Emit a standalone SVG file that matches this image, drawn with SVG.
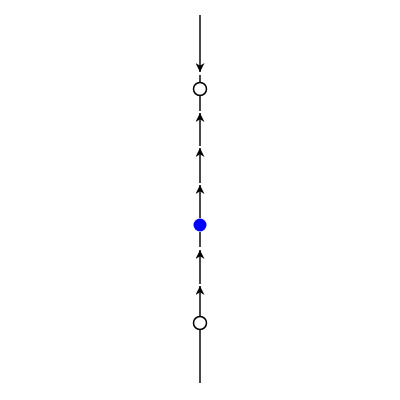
<svg xmlns="http://www.w3.org/2000/svg" width="400" height="400" viewBox="0 0 400 400">
<defs>
<marker id="ah" viewBox="0 0 10 10" refX="10" refY="5" markerWidth="5" markerHeight="5" orient="auto" markerUnits="strokeWidth">
<path d="M0,0 L10,5 L0,10 L3,5 Z" fill="#000"/>
</marker>
<style>
.ln{stroke:#333;stroke-width:1.8;fill:none;marker-end:url(#ah)}
.pl{stroke:#333;stroke-width:1.8;fill:none}
.open{fill:#fff;stroke:#000;stroke-width:1.5}
.fix{fill:#0000ff;stroke:none}
</style>
</defs>
<rect width="400" height="400" fill="#fff"/>
<g id="connectors">
<line class="ln" x1="200" y1="15" x2="200" y2="72"/>
<line class="pl" x1="200" y1="75" x2="200" y2="82"/>
<line class="pl" x1="200" y1="96" x2="200" y2="111"/>
<line class="ln" x1="200" y1="146" x2="200" y2="113"/>
<line class="ln" x1="200" y1="183" x2="200" y2="148"/>
<line class="ln" x1="200" y1="218" x2="200" y2="185"/>
<line class="pl" x1="200" y1="232" x2="200" y2="247"/>
<line class="ln" x1="200" y1="284" x2="200" y2="250"/>
<line class="ln" x1="200" y1="316" x2="200" y2="286"/>
<line class="pl" x1="200" y1="330" x2="200" y2="383"/>
</g>
<g id="node-top"><circle class="open" cx="200" cy="89" r="6.5"/></g>
<g id="node-mid"><circle class="fix" cx="200" cy="225" r="6.5"/></g>
<g id="node-bottom"><circle class="open" cx="200" cy="323" r="6.5"/></g>
</svg>
